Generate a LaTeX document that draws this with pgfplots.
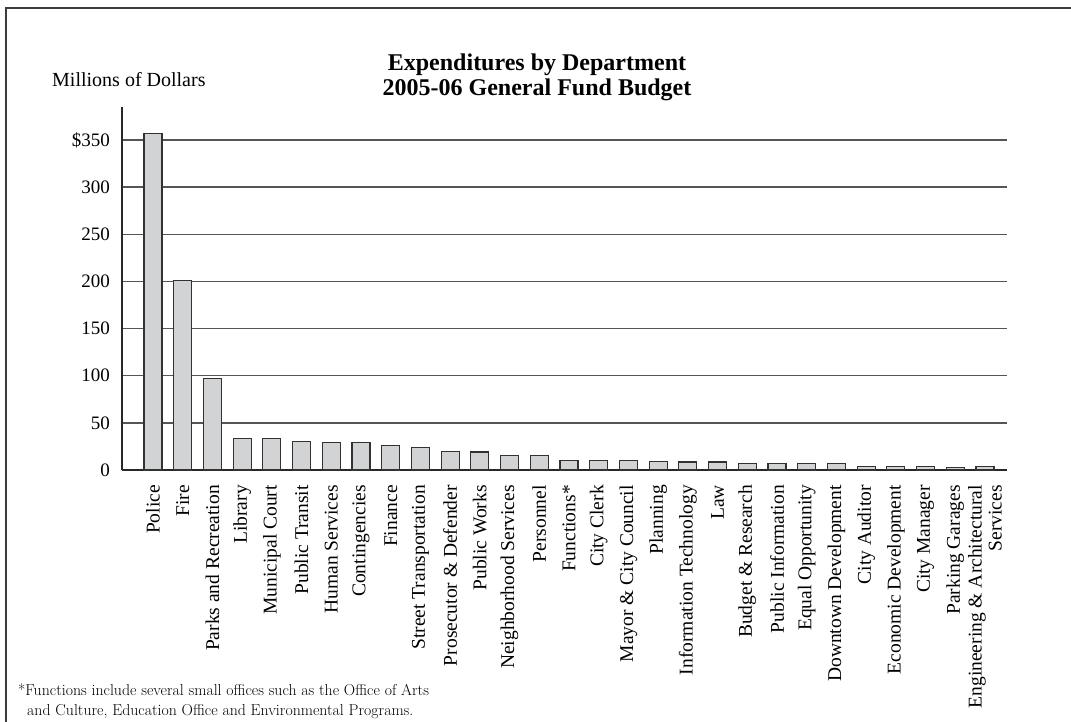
\documentclass[border=0pt]{standalone}
\usepackage{fontspec}
\usepackage{pgfplots}
\pgfplotsset{compat=1.18}
\newfontfamily\chartfont{Liberation Serif}

\definecolor{barfill}{RGB}{210,211,213}
\definecolor{bardraw}{RGB}{50,50,50}
\definecolor{gridc}{RGB}{85,85,85}
\definecolor{axisc}{RGB}{40,40,40}
\definecolor{framec}{RGB}{60,60,60}

\begin{document}
\begin{tikzpicture}
  % page size of the reference (1 px = 1 pt)
  \path[use as bounding box] (0pt,0pt) rectangle (1071pt,-722pt);
  % partial frame (top and left edges)
  \draw[framec, line width=2pt] (6pt,-722pt) -- (6pt,-8pt) -- (1071pt,-8pt);

  % titles
  \node[anchor=base, inner sep=0pt] at (537pt,-71pt)
    {\chartfont\bfseries\fontsize{24}{26}\selectfont Expenditures by Department};
  \node[anchor=base, inner sep=0pt] at (537pt,-96pt)
    {\chartfont\bfseries\fontsize{24}{26}\selectfont 2005-06 General Fund Budget};
  \node[anchor=base west, inner sep=0pt] at (52pt,-87pt)
    {\chartfont\fontsize{20}{22}\selectfont Millions of Dollars};

  \begin{axis}[
    at={(122pt,-470pt)}, anchor=south west,
    scale only axis,
    width=885pt, height=363pt,
    xmin=-1.043, xmax=28.74,
    ymin=0, ymax=385,
    clip=false,
    ybar, bar width=18pt,
    axis x line=bottom, axis y line=left,
    axis line style={-, line width=2.5pt, color=axisc},
    major tick length=0pt,
    ymajorgrids=true,
    major grid style={gridc, line width=1.4pt},
    ytick={0,50,100,150,200,250,300,350},
    yticklabels={0,50,100,150,200,250,300,\$350},
    yticklabel style={font=\chartfont\fontsize{19}{21}\selectfont, inner sep=0pt},
    yticklabel shift=12pt,
    xtick={0,1,...,28},
    xticklabels={Police, Fire, Parks and Recreation, Library, Municipal Court,
      Public Transit, Human Services, Contingencies, Finance,
      Street Transportation, Prosecutor \& Defender, Public Works,
      Neighborhood Services, Personnel, Functions*, City Clerk,
      Mayor \& City Council, Planning, Information Technology, Law,
      Budget \& Research, Public Information, Equal Opportunity,
      Downtown Development, City Auditor, Economic Development,
      City Manager, Parking Garages,
      {Engineering \& Architectural\\Services}},
    xticklabel style={font=\chartfont\fontsize{19.5}{20}\selectfont,
      rotate=90, anchor=east, align=right, inner sep=0pt},
    xticklabel shift=15pt,
  ]
    \addplot[fill=barfill, draw=bardraw, line width=1.2pt] coordinates {
      (0,357) (1,201) (2,97) (3,33) (4,33) (5,30) (6,29.5) (7,29)
      (8,26) (9,23.5) (10,20) (11,19) (12,15.5) (13,15) (14,10.5)
      (15,10) (16,10) (17,9) (18,8.5) (19,8.5) (20,6.5) (21,6.5)
      (22,6.5) (23,6.5) (24,4) (25,4) (26,4) (27,2.5) (28,3.5)
    };
  \end{axis}

  % footnote
  \node[anchor=base west, inner sep=0pt] at (18pt,-695pt)
    {\fontsize{15.8}{18}\selectfont *Functions include several small offices such as the Office of Arts};
  \node[anchor=base west, inner sep=0pt] at (27pt,-715pt)
    {\fontsize{15.8}{18}\selectfont and Culture, Education Office and Environmental Programs.};
\end{tikzpicture}
\end{document}
